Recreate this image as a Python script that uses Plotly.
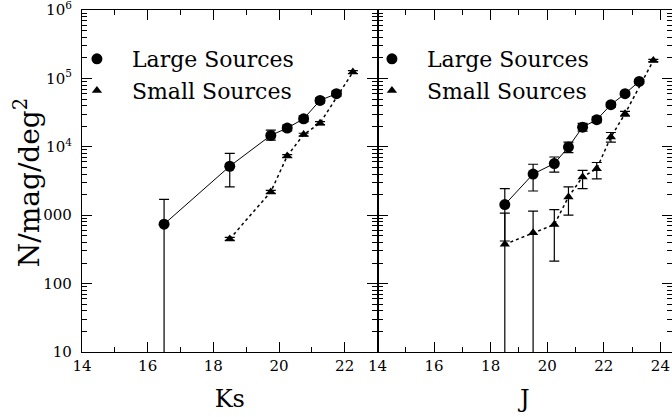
import plotly.graph_objects as go

# ---- data ----
ks_large_x = [16.5, 18.5, 19.75, 20.25, 20.75, 21.25, 21.75]
ks_large_y = [740, 5200, 14700, 18800, 25700, 47700, 59800]
ks_large_hi = [1700, 8000, 17600, 20700, 28300, 52000, 65000]
ks_large_lo = [1, 2600, 12500, 17100, 23400, 43800, 55000]

ks_small_x = [18.5, 19.75, 20.25, 20.75, 21.25, 22.25]
ks_small_y = [450, 2190, 7350, 15100, 22200, 124000]
ks_small_hi = [475, 2300, 7700, 15800, 23300, 130000]
ks_small_lo = [428, 2080, 7000, 14400, 21100, 118000]

j_large_x = [18.5, 19.5, 20.25, 20.75, 21.25, 21.75, 22.25, 22.75, 23.25]
j_large_y = [1430, 4000, 5700, 9930, 19400, 24900, 41300, 59800, 90400]
j_large_hi = [2450, 5560, 7100, 11700, 22000, 27500, 44500, 64000, 96000]
j_large_lo = [420, 2260, 4270, 8200, 17000, 22500, 38000, 56000, 85000]

j_small_x = [18.5, 19.5, 20.25, 20.75, 21.25, 21.75, 22.25, 22.75, 23.75]
j_small_y = [375, 552, 731, 1850, 3630, 4790, 13900, 30500, 183000]
j_small_hi = [1070, 1150, 1210, 2590, 4540, 5900, 16200, 33000, 190000]
j_small_lo = [1, 1, 213, 1000, 2450, 3400, 11700, 28000, 176000]

y_tickvals = [10, 100, 1000, 1e4, 1e5, 1e6]
y_ticktext = ["10", "100", "1000", "10<sup>4</sup>", "10<sup>5</sup>", "10<sup>6</sup>"]
y_minor = [k * 10 ** e for e in range(1, 6) for k in range(2, 10)]
ks_ticks = [14, 16, 18, 20, 22]
j_ticks = [14, 16, 18, 20, 22, 24]

FONT = "DejaVu Serif"


def err(y, hi, lo):
    return dict(type="data", symmetric=False,
                array=[h - v for h, v in zip(hi, y)],
                arrayminus=[v - l for v, l in zip(y, lo)],
                color="black", thickness=1.2, width=5)


fig = go.Figure()

panels = [
    ("x", "y", "legend", ks_large_x, ks_large_y, ks_large_hi, ks_large_lo,
     ks_small_x, ks_small_y, ks_small_hi, ks_small_lo),
    ("x2", "y2", "legend2", j_large_x, j_large_y, j_large_hi, j_large_lo,
     j_small_x, j_small_y, j_small_hi, j_small_lo),
]

for xa, ya, lg, lx, ly, lhi, llo, sx, sy, shi, slo in panels:
    # connecting lines
    fig.add_trace(go.Scatter(
        x=lx, y=ly, xaxis=xa, yaxis=ya, mode="lines", showlegend=False,
        line=dict(color="black", width=1), hoverinfo="skip"))
    fig.add_trace(go.Scatter(
        x=sx, y=sy, xaxis=xa, yaxis=ya, mode="lines", showlegend=False,
        line=dict(color="black", width=1.5, dash="dot"), hoverinfo="skip"))
    # markers with error bars
    fig.add_trace(go.Scatter(
        x=lx, y=ly, xaxis=xa, yaxis=ya, legend=lg, name="Large Sources",
        mode="markers",
        marker=dict(symbol="circle", size=11, color="black"),
        error_y=err(ly, lhi, llo)))
    fig.add_trace(go.Scatter(
        x=sx, y=sy, xaxis=xa, yaxis=ya, legend=lg, name="Small Sources",
        mode="markers",
        marker=dict(symbol="triangle-up", size=9, color="black"),
        error_y=err(sy, shi, slo)))

xcommon = dict(showline=True, linecolor="black", linewidth=1.2, mirror="ticks",
               ticks="inside", ticklen=10, tickwidth=1.2, tickcolor="black",
               showgrid=False, zeroline=False, ticklabeloverflow="allow",
               minor=dict(ticks="inside", ticklen=5, tickwidth=1, tickcolor="black",
                          dtick=1, showgrid=False),
               tickfont=dict(family=FONT, size=15, color="black"),
               title_font=dict(family=FONT, size=24, color="black"),
               title_standoff=16)
ycommon = dict(type="log", range=[1, 6.0005], showline=True, linecolor="black",
               linewidth=1.2, mirror="ticks", ticks="inside", ticklen=10,
               tickwidth=1.2, tickcolor="black", showgrid=False, zeroline=False,
               tickmode="array", tickvals=y_tickvals, ticktext=y_ticktext,
               ticklabeloverflow="allow",
               minor=dict(ticks="inside", ticklen=5, tickwidth=1, tickcolor="black",
                          tickmode="array", tickvals=y_minor, showgrid=False),
               tickfont=dict(family=FONT, size=15, color="black"))

split = 295.5 / 590

fig.update_layout(
    width=672, height=417,
    margin=dict(l=82, r=0, t=10, b=65),
    paper_bgcolor="white", plot_bgcolor="white",
    xaxis=dict(domain=[0, split], range=[14, 23], tickmode="array",
               tickvals=ks_ticks, title_text="Ks", anchor="y", **xcommon),
    xaxis2=dict(domain=[split, 1], range=[14, 24.41], tickmode="array",
                tickvals=j_ticks, title_text="J", anchor="y2", **xcommon),
    yaxis=dict(domain=[0, 1], anchor="x", ticklabelstandoff=6, **ycommon),
    yaxis2=dict(domain=[0, 1], anchor="x2", showticklabels=False, **ycommon),
    legend=dict(x=-0.034, y=0.918, xanchor="left", yanchor="top",
                font=dict(family=FONT, size=22, color="black"),
                bgcolor="rgba(0,0,0,0)", itemwidth=60, tracegroupgap=0),
    legend2=dict(x=0.466, y=0.918, xanchor="left", yanchor="top",
                 font=dict(family=FONT, size=22, color="black"),
                 bgcolor="rgba(0,0,0,0)", itemwidth=60, tracegroupgap=0),
    annotations=[dict(text="N/mag/deg<sup>2</sup>", xref="paper", yref="paper",
                      x=-0.093, y=0.494, xanchor="center", yanchor="middle",
                      textangle=-90, showarrow=False,
                      font=dict(family=FONT, size=28, color="black"))],
)

fig.write_html("out.html",
               config={"displayModeBar": False},
               post_script="document.body.style.margin='0';"
                           "document.body.style.overflow='hidden';")
